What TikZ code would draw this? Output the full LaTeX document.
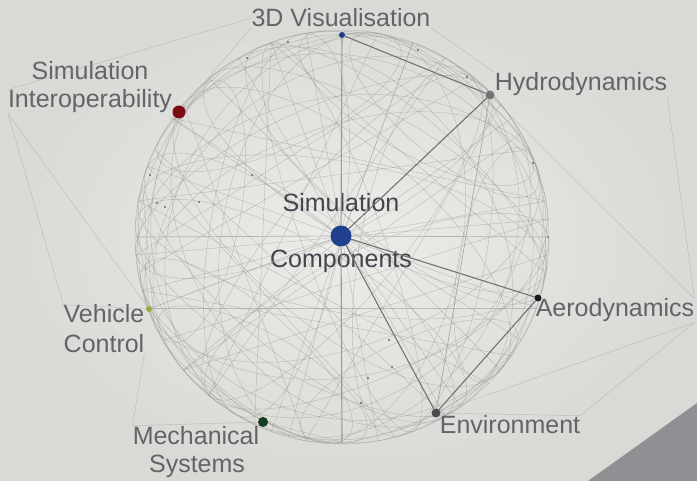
\documentclass[tikz,border=0pt]{standalone}
\usepackage{fontspec}
\setmainfont{Liberation Sans}
\usetikzlibrary{shapes}
\definecolor{bgin}{HTML}{ECECE9}
\definecolor{bgout}{HTML}{D9D9D5}
\definecolor{corner}{HTML}{8F9094}
\definecolor{labgray}{HTML}{636469}
\definecolor{labdark}{HTML}{42454C}
\tikzset{wire/.style={draw=black!45,line width=0.45pt,opacity=0.45}}
\tikzset{frame/.style={draw=black!35,line width=0.45pt,opacity=0.6}}
\tikzset{link/.style={draw=black!55,line width=1.1pt}}

\begin{document}
\begin{tikzpicture}[x=1pt,y=-1pt]

\tikzstyle{lab}=[font=\fontsize{25}{29}\selectfont,text=labgray,inner sep=0pt,anchor=base]
\tikzstyle{dot}=[circle,inner sep=0pt]

 \useasboundingbox (0,0) rectangle (697,481);
 \shade[inner color=bgin,outer color=bgout] (0,0) rectangle (697,481);
 \fill[corner] (697,403) -- (697,481) -- (588,481) -- cycle;

 \coordinate (sc) at (342,237);
 \coordinate (bot) at (342,442);
 \coordinate (west) at (135,237);
 \coordinate (east) at (549,237);

 % sphere
 \foreach \rx/\rot in {207/0,190/15,170/-25,150/35,120/-10,90/50,60/-40,
   180/70,140/100,110/-70,40/20,200/-50,160/130,75/80}
  \draw[wire,rotate around={\rot:(sc)}] (sc) ellipse [x radius=\rx,y radius=207];
 \foreach \rot in {-30,25,80,140}
  \foreach \lat in {-55,-25,20,50}
   \draw[wire,rotate around={\rot:(sc)}] (342,{237-194*sin(\lat)})
    ellipse [x radius={207*cos(\lat)},y radius={70*cos(\lat)}];
 \foreach \a/\b in {150/-5,165/35,190/-25,205/60,130/-60,115/250,100/220,
   75/200,60/240,45/190,30/215,20/160,-10/215,-30/140,-50/170,-70/110,
   250/10,230/40,260/80,280/130,300/175,320/100,140/5,175/-5,155/195}
  \draw[wire,shift={(sc)}] (\a:207) -- (\b:207);
 \foreach \a in {20,55,105,140,165,200,215,250,290,325,350}
  \draw[wire] (sc) -- +(\a:207);
 \foreach \p in {(150,175),(157,203),(165,207),(199,202),(252,175),(288,42),
   (247,58),(418,50),(467,77),(533,163),(548,237),(389,340),(368,378),
   (361,403),(392,367)}
  \fill[black!60] \p circle (1.2);

 % labels
 \node[lab] (tvis) at (341,27) {3D Visualisation};
 \node[lab] (sim) at (90,80) {Simulation};
 \node[lab] (iop) at (90,108) {Interoperability};
 \node[lab] (hydl) at (581,91) {Hydrodynamics};
 \node[lab,text=labdark] (csim) at (341,212) {Simulation};
 \node[lab,text=labdark] (ccomp) at (341,268) {Components};
 \node[lab] (aerl) at (615,317) {Aerodynamics};
 \node[lab] (envl) at (510,434) {Environment};
 \node[lab] (veh) at (104,323) {Vehicle};
 \node[lab] (ctl) at (104,353) {Control};
 \node[lab] (mech) at (196,444) {Mechanical};
 \node[lab] (sys) at (197,472) {Systems};

 % outer links
 \draw[frame] (iop.north west) -- (tvis.west);
 \draw[frame] (iop.south west) -- (veh.north west) -- (149,309);
 \draw[frame] (iop.south west) -- (149,309);
 \draw[frame] (tvis.south west) -- (179,112);
 \draw[frame] (tvis.south east) -- (hydl.north west);
 \draw[frame] (hydl.south east) -- (aerl.north east);
 \draw[frame] (490,95) -- (aerl.north east);
 \draw[frame] (aerl.south east) -- (436,413) -- (envl.north east) -- cycle;
 \draw[frame] (ctl.south east) -- (mech.north west) -- (263,422);
 \draw[frame] (149,309) -- (197,375) -- (263,422) -- (bot);

 % dots
 \node[dot,fill={rgb,255:red,36;green,58;blue,138},minimum size=6] (vis) at (342,35) {};
 \node[dot,fill={rgb,255:red,125;green,12;blue,18},minimum size=13] (sio) at (179,112) {};
 \node[dot,fill=black!55,minimum size=9] (hyd) at (490,95) {};
 \node[dot,fill={rgb,255:red,32;green,63;blue,142},minimum size=21] (ctr) at (341,236) {};
 \node[dot,fill=black!90,minimum size=7] (aer) at (538,298) {};
 \node[dot,fill=black!70,minimum size=9] (env) at (436,413) {};
 \node[dot,fill={rgb,255:red,18;green,61;blue,34},minimum size=10] (mec) at (263,422) {};
 \node[dot,fill={rgb,255:red,160;green,168;blue,58},minimum size=6] (vc) at (149,309) {};

 \draw[link] (vis) -- (hyd) -- (ctr) -- (aer) -- (env) -- (ctr);
 \draw[link,draw=black!40] (vis) -- (ctr) -- (bot);
 \draw[link,draw=black!30,line width=0.7pt] (west) -- (ctr) -- (east);
 \draw[link,draw=black!35,line width=0.7pt] (hyd) -- (env);
 \draw[link,draw=black!30,line width=0.6pt] (vc) -- (ctr);
\end{tikzpicture}
\end{document}
